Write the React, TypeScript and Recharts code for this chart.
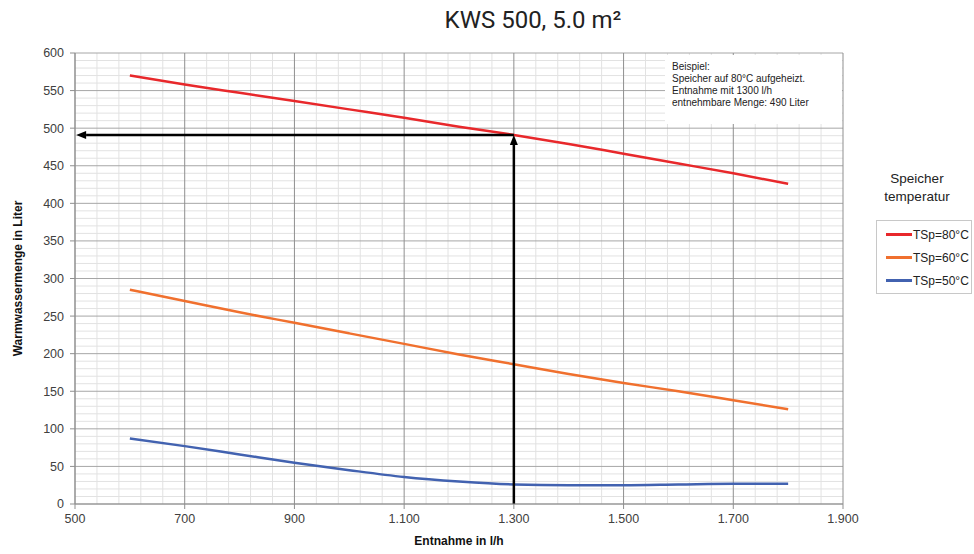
import { LineChart, Line, XAxis, YAxis, ReferenceLine, Legend } from 'recharts';

const flowRates = [600, 700, 800, 900, 1000, 1100, 1200, 1300, 1400, 1500, 1600, 1700, 1800];
const tsp80 = [570, 558, 547, 536, 525, 514, 502, 491, 479, 466, 453, 440, 426];
const tsp60 = [285, 270, 255, 241, 227, 213, 199, 186, 173, 161, 150, 138, 126];
const tsp50 = [87, 77, 66, 55, 45, 36, 30, 26, 25, 25, 26, 27, 27];

const seriesNames = ['TSp=80°C', 'TSp=60°C', 'TSp=50°C'];

const xTicks = [500, 700, 900, 1100, 1300, 1500, 1700, 1900];
const yTicks = [0, 50, 100, 150, 200, 250, 300, 350, 400, 450, 500, 550, 600];
const xMinor = [540, 580, 620, 660, 740, 780, 820, 860, 940, 980, 1020, 1060, 1140, 1180, 1220, 1260, 1340, 1380, 1420, 1460, 1540, 1580, 1620, 1660, 1740, 1780, 1820, 1860];
const yMinor = [10, 20, 30, 40, 60, 70, 80, 90, 110, 120, 130, 140, 160, 170, 180, 190, 210, 220, 230, 240, 260, 270, 280, 290, 310, 320, 330, 340, 360, 370, 380, 390, 410, 420, 430, 440, 460, 470, 480, 490, 510, 520, 530, 540, 560, 570, 580, 590];

const exampleFlow = 1300;
const exampleVolume = 491;

const data = flowRates.map((f, i) => ({ flow: f, t80: tsp80[i], t60: tsp60[i], t50: tsp50[i] }));

const fmt = (v: number) => (v >= 1000 ? `${Math.floor(v / 1000)}.${String(v % 1000).padStart(3, '0')}` : String(v));

const Arrow = (p: any) => {
  const { x1, y1, x2, y2 } = p;
  const dx = x2 - x1;
  const dy = y2 - y1;
  const len = Math.sqrt(dx * dx + dy * dy) || 1;
  const ux = dx / len;
  const uy = dy / len;
  const hl = 10;
  const hw = 4;
  const bx = x2 - ux * hl;
  const by = y2 - uy * hl;
  return (
    <g>
      <line x1={x1} y1={y1} x2={bx} y2={by} stroke="#000" strokeWidth={2.5} />
      <polygon
        points={`${x2},${y2} ${bx - uy * hw},${by + ux * hw} ${bx + uy * hw},${by - ux * hw}`}
        fill="#000"
      />
    </g>
  );
};

const LegendBox = (props: any) => {
  const items = props.payload || [];
  const ordered = seriesNames.map((n) => items.find((it: any) => it.value === n)).filter(Boolean);
  return (
    <div style={{ fontFamily: 'Liberation Sans, Arial, sans-serif', color: '#222' }}>
      <div style={{ textAlign: 'center', fontSize: 13.5, lineHeight: '18px', marginBottom: 14, width: 118 }}>
        Speicher
        <br />
        temperatur
      </div>
      <div style={{ border: '1px solid #c8c8c8', marginLeft: 18, width: 94, padding: '2px 0 1px 0', background: '#fff' }}>
        {ordered.map((it: any) => (
          <div key={it.value} style={{ display: 'flex', alignItems: 'center', height: 23, fontSize: 12, whiteSpace: 'nowrap' }}>
            <span style={{ display: 'inline-block', width: 26, height: 3, background: it.color, marginLeft: 9, marginRight: 1 }} />
            {it.value}
          </div>
        ))}
      </div>
    </div>
  );
};

export default function App() {
  return (
    <div style={{ position: 'absolute', left: 0, top: 0, width: 974, height: 554, background: '#fff' }}>
      <div
        style={{
          position: 'absolute',
          left: 0,
          width: 1066,
          top: 6,
          textAlign: 'center',
          fontFamily: 'Roboto, sans-serif',
          fontSize: 24,
          color: '#222',
        }}
      >
        KWS 500, 5.0 m²
      </div>
      <LineChart width={974} height={554} data={data} margin={{ top: 53, right: 131, left: 15, bottom: 20 }}>
        {yMinor.map((v) => (
          <ReferenceLine key={'hy' + v} y={v} stroke="#e2e2e2" strokeWidth={1} />
        ))}
        {xMinor.map((v) => (
          <ReferenceLine key={'vx' + v} x={v} stroke="#e2e2e2" strokeWidth={1} />
        ))}
        {yTicks.map((v) => (
          <ReferenceLine key={'HY' + v} y={v} stroke="#a6a6a6" strokeWidth={1} />
        ))}
        {xTicks.map((v) => (
          <ReferenceLine key={'VX' + v} x={v} stroke="#8f8f8f" strokeWidth={1} />
        ))}
        <XAxis
          type="number"
          dataKey="flow"
          domain={[500, 1900]}
          ticks={xTicks}
          tickFormatter={fmt}
          interval={0}
          height={30}
          stroke="#8f8f8f"
          tickSize={5}
          tickMargin={5}
          tick={{ fill: '#404040', fontSize: 12.5, fontFamily: 'Liberation Sans, Arial, sans-serif' }}
          label={{
            value: 'Entnahme in l/h',
            position: 'bottom',
            offset: 2,
            fill: '#111',
            fontSize: 12,
            fontWeight: 700,
            fontFamily: 'Liberation Sans, Arial, sans-serif',
          }}
        />
        <YAxis
          type="number"
          domain={[0, 600]}
          ticks={yTicks}
          interval={0}
          width={60}
          stroke="#8f8f8f"
          tickSize={5}
          tickMargin={6}
          tick={{ fill: '#404040', fontSize: 12.5, fontFamily: 'Liberation Sans, Arial, sans-serif' }}
          label={{
            value: 'Warmwassermenge in Liter',
            angle: -90,
            position: 'insideLeft',
            offset: 3,
            fill: '#111',
            fontSize: 12,
            fontWeight: 700,
            fontFamily: 'Liberation Sans, Arial, sans-serif',
            style: { textAnchor: 'middle' },
          }}
        />
        <Line type="monotone" dataKey="t80" name={seriesNames[0]} stroke="#e8282b" strokeWidth={2.5} dot={false} isAnimationActive={false} />
        <Line type="monotone" dataKey="t60" name={seriesNames[1]} stroke="#f0702e" strokeWidth={2.5} dot={false} isAnimationActive={false} />
        <Line type="monotone" dataKey="t50" name={seriesNames[2]} stroke="#4262b0" strokeWidth={2.5} dot={false} isAnimationActive={false} />
        <ReferenceLine
          segment={[
            { x: exampleFlow, y: exampleVolume },
            { x: 502, y: exampleVolume },
          ]}
          shape={Arrow}
        />
        <ReferenceLine
          segment={[
            { x: exampleFlow, y: 0 },
            { x: exampleFlow, y: exampleVolume },
          ]}
          shape={Arrow}
        />
        <Legend
          layout="vertical"
          align="center"
          verticalAlign="middle"
          content={LegendBox}
          wrapperStyle={{ position: 'absolute', left: 858, top: 170, width: 116 }}
        />
      </LineChart>
      <div
        style={{
          position: 'absolute',
          left: 665,
          top: 55,
          width: 177,
          height: 69,
          background: '#fff',
          boxSizing: 'border-box',
          padding: '6px 0 0 7px',
          fontFamily: 'Liberation Sans, Arial, sans-serif',
          fontSize: 10,
          lineHeight: '12px',
          color: '#222',
        }}
      >
        Beispiel:
        <br />
        Speicher auf 80°C aufgeheizt.
        <br />
        Entnahme mit 1300 l/h
        <br />
        entnehmbare Menge: 490 Liter
      </div>
    </div>
  );
}
